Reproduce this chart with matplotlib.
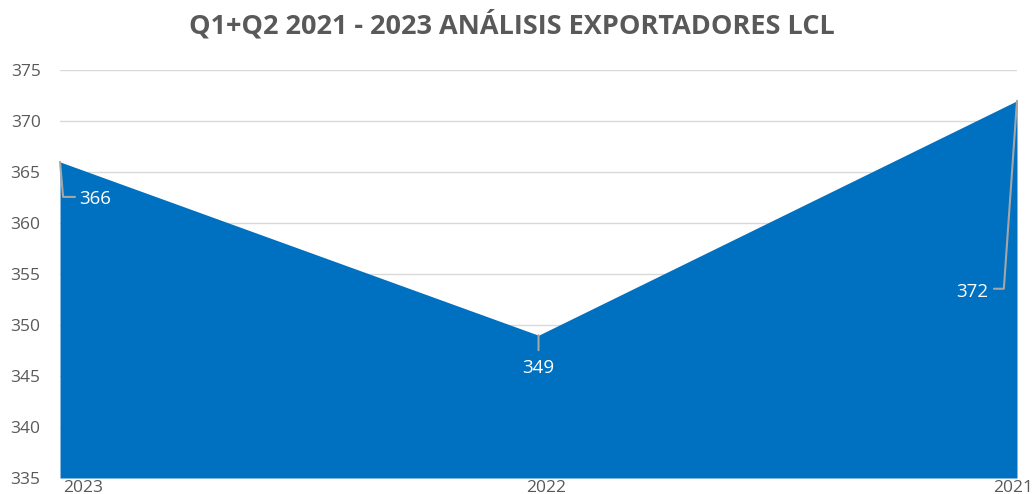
import matplotlib.pyplot as plt

# ---------- DATA ----------
years = ["2023", "2022", "2021"]
values = [366, 349, 372]
y_ticks = [335, 340, 345, 350, 355, 360, 365, 370, 375]

plt.rcParams['font.family'] = ['Open Sans', 'DejaVu Sans']

fig = plt.figure(figsize=(10.35, 4.94), dpi=100)
ax = fig.add_axes([0.058, 0.0324, 0.9246, 0.8256])

x = list(range(len(years)))
ax.fill_between(x, values, 335, color="#0070C0", zorder=2, linewidth=0)

ax.set_xlim(0, len(years) - 1)
ax.set_ylim(335, 375)
ax.set_yticks(y_ticks)
ax.set_yticklabels([str(v) for v in y_ticks], fontsize=12.5, color="#595959")
ax.tick_params(axis='y', length=0, pad=14)
ax.grid(axis='y', color="#D9D9D9", linewidth=1, zorder=1)
ax.set_axisbelow(True)
for s in ax.spines.values():
    s.set_visible(False)

# x labels (edge labels shifted to fit, like the original)
ax.set_xticks([])
x_offsets = [23, 8, -4]
for i, lab in enumerate(years):
    ax.annotate(lab, (i, 335), xytext=(x_offsets[i], -2),
                textcoords='offset pixels', ha='center', va='top',
                fontsize=12.5, color="#595959", annotation_clip=False)

# ---------- DATA LABELS WITH LEADER LINES ----------
lc = "#A6A6A6"
lbl = dict(textcoords='offset pixels', fontsize=13.5, color='white', va='center')
lead = dict(textcoords='offset pixels')

# 366
ax.annotate("366", (0, values[0]), xytext=(19, -37), ha='left', **lbl)
ax.annotate("", (0, values[0]), xytext=(15, -35), **lead,
            arrowprops=dict(arrowstyle='-', color=lc, lw=1.5,
                            connectionstyle="angle,angleA=0,angleB=95,rad=0",
                            shrinkA=0, shrinkB=0))
# 349
ax.annotate("349", (1, values[1]), xytext=(0, -33), ha='center', **lbl)
ax.annotate("", (1, values[1]), xytext=(0, -15), **lead,
            arrowprops=dict(arrowstyle='-', color=lc, lw=1.5,
                            shrinkA=0, shrinkB=0))
# 372
ax.annotate("372", (2, values[2]), xytext=(-29, -191), ha='right', **lbl)
ax.annotate("", (2, values[2]), xytext=(-23, -188), **lead,
            arrowprops=dict(arrowstyle='-', color=lc, lw=1.5,
                            connectionstyle="angle,angleA=0,angleB=86,rad=0",
                            shrinkA=0, shrinkB=0))

fig.text(0.495, 0.949, "Q1+Q2 2021 - 2023 ANÁLISIS EXPORTADORES LCL",
         ha='center', va='center', fontsize=19.5, fontweight='bold', color="#595959")

fig.savefig("out.png", dpi=100)
